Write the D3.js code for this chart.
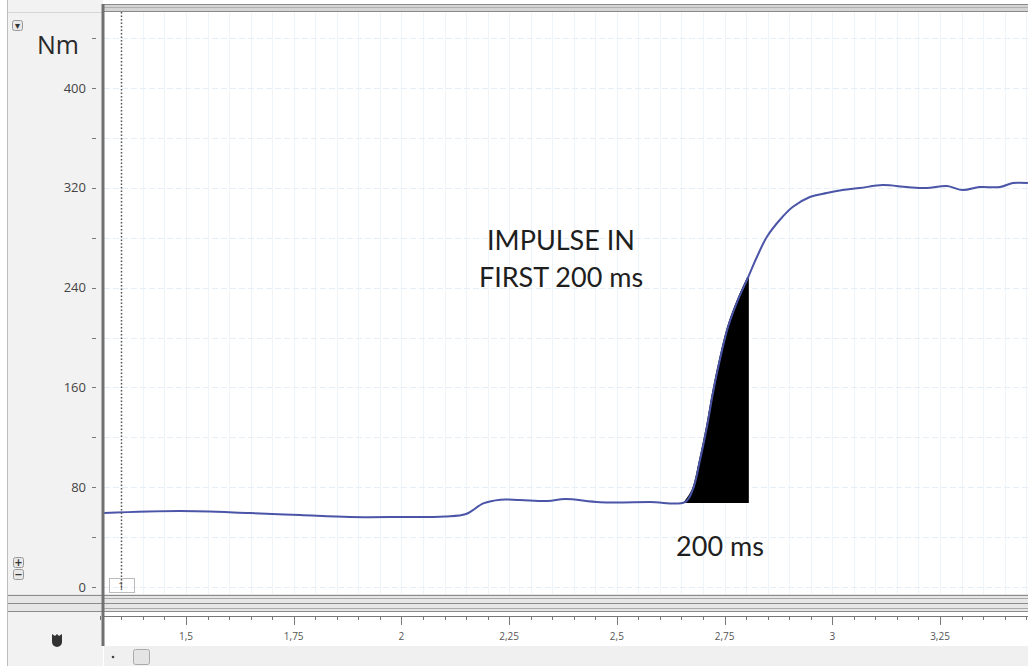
<!DOCTYPE html>
<meta charset="UTF-8">
<style>
    body { margin: 0; background: #fff; }
    .ylab { font: 13px "Open Sans", sans-serif; fill: #444; }
    .xlab { font: 10px "Open Sans", sans-serif; fill: #555; }
    .note { font: 27px Lato, sans-serif; fill: #1e1e1e; }
</style>
<body>
<div id="chart"></div>
<script src="https://d3js.org/d3.v7.min.js"></script>
<script>
    // torque trace (time in s, torque in Nm)
    var timeS = [1.31, 1.486, 1.648, 1.765, 1.88, 1.997, 2.1, 2.15, 2.19, 2.23, 2.275, 2.34, 2.38,
        2.461, 2.577, 2.658, 2.676, 2.693, 2.709, 2.723, 2.739, 2.758, 2.781, 2.804, 2.825,
        2.848, 2.878, 2.908, 2.948, 2.987, 3.024, 3.064, 3.117, 3.173, 3.219, 3.266, 3.303,
        3.342, 3.389, 3.419, 3.454];
    var torqueNm = [59.3, 60.9, 59.3, 57.7, 56.1, 56.1, 56.5, 58.5, 67, 70, 69.7, 69, 70.5,
        68, 68.1, 68.1, 77.8, 101.8, 128.3, 155.5, 182, 208.4, 230.1, 247.7, 264.5,
        280.6, 294.2, 304.6, 312.6, 315.8, 318.2, 319.8, 322.2, 320.6, 319.8, 321.4, 318.2,
        320.6, 320.6, 323.8, 323.8];

    // impulse window
    var impulseStart = 2.658, impulseEnd = 2.804, impulseBase = 68.1;

    var yTicks = [0, 40, 80, 120, 160, 200, 240, 280, 320, 360, 400, 440];
    var yLabels = [0, 80, 160, 240, 320, 400];
    var xMajor = [1.5, 1.75, 2, 2.25, 2.5, 2.75, 3, 3.25];

    var W = 1028, H = 666;
    var plot = {left: 104, right: 1028, top: 12, bottom: 594};

    var x = d3.scaleLinear().domain([1.5, 3.25]).range([186, 940]);
    var y = d3.scaleLinear().domain([0, 400]).range([587, 88]);

    var data = timeS.map(function (t, i) { return {t: t, v: torqueNm[i]}; });

    var svg = d3.select("#chart").append("svg")
            .attr("width", W).attr("height", H);

    // left panel and bottom bar
    svg.append("rect").attr("x", 0).attr("y", 0).attr("width", W).attr("height", H).attr("fill", "#fff");
    svg.append("rect").attr("x", 7).attr("y", 0).attr("width", 96).attr("height", H).attr("fill", "#f2f2f2");
    svg.append("line").attr("x1", 7.5).attr("x2", 7.5).attr("y1", 0).attr("y2", H).attr("stroke", "#bdbdbd");
    svg.append("line").attr("x1", 8).attr("x2", 102).attr("y1", 12.5).attr("y2", 12.5).attr("stroke", "#d6d6d6");
    svg.append("rect").attr("x", 104).attr("y", 646).attr("width", W - 104).attr("height", 20).attr("fill", "#f0f0f0");

    // top double border
    svg.append("rect").attr("x", 103).attr("y", 4).attr("width", W - 103).attr("height", 8).attr("fill", "#d4d4d4");
    [4.5, 7.5, 11.5].forEach(function (yy) {
        svg.append("line").attr("x1", 103).attr("x2", W).attr("y1", yy).attr("y2", yy)
                .attr("stroke", yy === 7.5 ? "#b0b0b0" : "#8a8a8a");
    });

    // plot area
    var g = svg.append("g");
    g.append("clipPath").attr("id", "clip").append("rect")
            .attr("x", plot.left).attr("y", plot.top)
            .attr("width", plot.right - plot.left).attr("height", plot.bottom - plot.top);

    var grid = g.append("g").attr("clip-path", "url(#clip)");
    grid.selectAll("line.vg").data(d3.range(1.3, 3.46, 0.05)).enter().append("line")
            .attr("x1", function (d) { return Math.round(x(d)) + 0.5; })
            .attr("x2", function (d) { return Math.round(x(d)) + 0.5; })
            .attr("y1", plot.top).attr("y2", plot.bottom)
            .attr("stroke", "#eef5fa");
    grid.selectAll("line.hg").data(yTicks).enter().append("line")
            .attr("x1", plot.left).attr("x2", plot.right)
            .attr("y1", function (d) { return Math.round(y(d)) + 0.5; })
            .attr("y2", function (d) { return Math.round(y(d)) + 0.5; })
            .attr("stroke", "#e6eff8").attr("stroke-dasharray", "6,3");

    // dotted cursor line
    g.append("line").attr("x1", 121.5).attr("x2", 121.5).attr("y1", plot.top).attr("y2", 590)
            .attr("stroke", "#555").attr("stroke-width", 1.5).attr("stroke-dasharray", "1.5,2");
    g.append("rect").attr("x", 109.5).attr("y", 578.5).attr("width", 25).attr("height", 14)
            .attr("fill", "none").attr("stroke", "#bbb");
    g.append("text").attr("x", 121).attr("y", 590).attr("text-anchor", "middle")
            .attr("class", "xlab").text("1");

    // impulse area
    var inWindow = data.filter(function (d) { return d.t >= impulseStart && d.t <= impulseEnd; });
    var area = d3.area()
            .x(function (d) { return x(d.t); })
            .y0(y(impulseBase))
            .y1(function (d) { return y(d.v); })
            .curve(d3.curveCatmullRom);
    grid.append("path").datum(inWindow).attr("d", area).attr("fill", "#000")
            .attr("stroke", "#000").attr("stroke-width", 2);

    // torque line
    var line = d3.line()
            .x(function (d) { return x(d.t); })
            .y(function (d) { return y(d.v); })
            .curve(d3.curveCatmullRom);
    grid.append("path").datum(data).attr("d", line)
            .attr("fill", "none").attr("stroke", "#4b55a8").attr("stroke-width", 2);

    // annotations
    g.append("text").attr("class", "note").attr("x", 561).attr("y", 250)
            .attr("text-anchor", "middle").text("IMPULSE IN");
    g.append("text").attr("class", "note").attr("x", 561).attr("y", 287)
            .attr("text-anchor", "middle").text("FIRST 200 ms");
    g.append("text").attr("class", "note").attr("x", 720).attr("y", 556)
            .attr("text-anchor", "middle").text("200 ms");

    // y axis
    var ya = svg.append("g");
    ya.selectAll("line").data(yTicks).enter().append("line")
            .attr("x1", 92).attr("x2", 96)
            .attr("y1", function (d) { return Math.round(y(d)) + 0.5; })
            .attr("y2", function (d) { return Math.round(y(d)) + 0.5; })
            .attr("stroke", "#777");
    ya.selectAll("text").data(yLabels).enter().append("text")
            .attr("class", "ylab").attr("x", 86).attr("text-anchor", "end")
            .attr("y", function (d) { return y(d) + 4.5; })
            .text(function (d) { return d; });
    ya.append("text").attr("x", 58).attr("y", 54).attr("text-anchor", "middle")
            .style("font", "25px 'Open Sans', sans-serif").attr("fill", "#2a2a2a").text("Nm");

    // small buttons on the left
    function btn(bx, by, sym) {
        svg.append("rect").attr("x", bx + 0.5).attr("y", by + 0.5).attr("width", 10).attr("height", 10)
                .attr("rx", 2).attr("fill", "#e8e8e8").attr("stroke", "#999");
        svg.append("text").attr("x", bx + 5.5).attr("y", by + 9).attr("text-anchor", "middle")
                .style("font", "bold 10px 'DejaVu Sans', sans-serif").attr("fill", "#333").text(sym);
    }
    btn(12, 20, "▾");
    btn(13, 557, "+");
    btn(13, 569, "−");
    svg.append("path").attr("d", "M52,634 l3,2 l2,-2 l2,2 l3,-2 v8 a5,5 0 0 1 -10,0 z")
            .attr("fill", "#333");

    // splitter between plot and time axis
    svg.append("rect").attr("x", 8).attr("y", 594).attr("width", W - 8).attr("height", 18).attr("fill", "#e6e6e6");
    [595.5, 598.5, 603.5, 608.5, 611.5].forEach(function (yy, i) {
        svg.append("line").attr("x1", i % 2 ? 104 : 8).attr("x2", W).attr("y1", yy).attr("y2", yy)
                .attr("stroke", i % 2 ? "#aaa" : "#8c8c8c");
    });
    svg.append("rect").attr("x", 104).attr("y", 612).attr("width", W - 104).attr("height", 34).attr("fill", "#fff");

    // time axis
    var xa = svg.append("g").attr("transform", "translate(0,616)");
    xa.append("line").attr("x1", 104).attr("x2", W).attr("y1", 0.5).attr("y2", 0.5).attr("stroke", "#777");
    var minor = d3.range(1.3, 3.46, 0.05).filter(function (t) {
        return xMajor.every(function (m) { return Math.abs(m - t) > 0.01; });
    });
    xa.selectAll("line.mi").data(minor).enter().append("line")
            .attr("x1", function (d) { return Math.round(x(d)) + 0.5; })
            .attr("x2", function (d) { return Math.round(x(d)) + 0.5; })
            .attr("y1", 0).attr("y2", 4).attr("stroke", "#777");
    xa.selectAll("line.ma").data(xMajor).enter().append("line")
            .attr("x1", function (d) { return Math.round(x(d)) + 0.5; })
            .attr("x2", function (d) { return Math.round(x(d)) + 0.5; })
            .attr("y1", 0).attr("y2", 9).attr("stroke", "#777");
    xa.selectAll("text").data(xMajor).enter().append("text")
            .attr("class", "xlab").attr("text-anchor", "middle")
            .attr("x", function (d) { return x(d); }).attr("y", 24)
            .text(function (d) { return String(d).replace(".", ","); });

    // scroll bar bits
    svg.append("circle").attr("cx", 113).attr("cy", 657).attr("r", 1.3).attr("fill", "#444");
    svg.append("rect").attr("x", 133.5).attr("y", 649.5).attr("width", 16).attr("height", 15)
            .attr("rx", 2).attr("fill", "#e4e4e4").attr("stroke", "#aaa");

    // plot left border
    svg.append("line").attr("x1", 103).attr("x2", 103).attr("y1", 4).attr("y2", 646)
            .attr("stroke", "#707070").attr("stroke-width", 3);
</script>
</body>
